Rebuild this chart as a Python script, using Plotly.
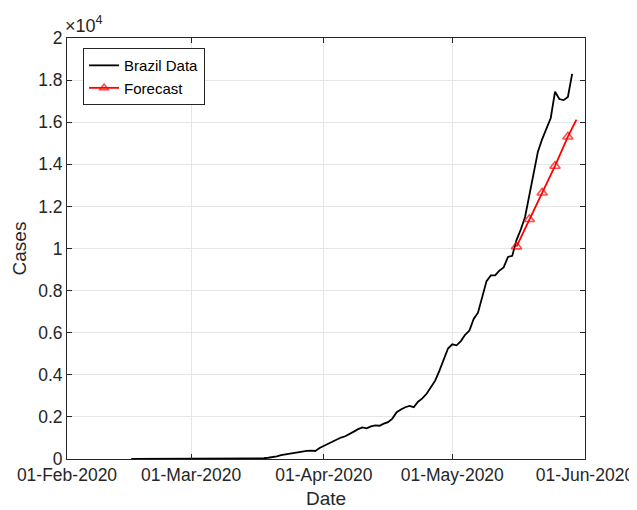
import plotly.graph_objects as go
import pandas as pd

# Brazil data: daily values starting 2020-02-16
data_start = "2020-02-16"
brazil_values = [
    0, 0, 0, 0, 0, 0, 0, 0, 0, 0,            # Feb 16 - Feb 25
    1, 1, 2, 2, 3, 3, 4, 4, 5, 5,            # Feb 26 - Mar 6
    6, 7, 8, 9, 10, 12, 14, 16, 20, 25,       # Mar 7 - Mar 16
    30, 35, 60, 80, 120, 180, 220, 260, 290, 320,  # Mar 17 - Mar 26
    350, 390, 400, 380, 520, 620, 750, 850, 950, 1020,  # Mar 27 - Apr 5
    1080, 1180, 1300, 1420, 1500, 1460, 1550, 1600, 1580, 1680,  # Apr 6 - Apr 15
    1750, 1920, 2220, 2350, 2460, 2520, 2460, 2720, 2880, 3100,  # Apr 16 - Apr 25
    3380, 3720, 4200, 4750, 5250, 5450, 5400, 5600, 5900, 6100,  # Apr 26 - May 5
    6650, 6950, 7700, 8450, 8720, 8720, 8950, 9100, 9600, 9650,  # May 6 - May 15
    10400, 10900, 11500, 12500, 13600, 14600, 15200, 15750, 16200, 17450,  # May 16 - May 25
    17100, 17050, 17200, 18300,  # May 26 - May 29
]

forecast_dates = ["2020-05-16", "2020-05-19", "2020-05-22", "2020-05-25", "2020-05-28", "2020-05-30"]
forecast_values = [10090, 11390, 12650, 13920, 15310, 16120]
forecast_marker_sizes = [9, 9, 9, 9, 9, 0]

x_tick_vals = ["2020-02-01", "2020-03-01", "2020-04-01", "2020-05-01", "2020-06-01"]
x_tick_text = ["01-Feb-2020", "01-Mar-2020", "01-Apr-2020", "01-May-2020", "01-Jun-2020"]
y_tick_vals = [0, 2000, 4000, 6000, 8000, 10000, 12000, 14000, 16000, 18000, 20000]
y_tick_text = ["0", "0.2", "0.4", "0.6", "0.8", "1", "1.2", "1.4", "1.6", "1.8", "2"]

brazil_dates = pd.date_range(data_start, periods=len(brazil_values), freq="D")

FONT = "Liberation Sans, Arial, Helvetica, sans-serif"
TXT = "#262626"

fig = go.Figure()
fig.add_trace(go.Scatter(
    x=brazil_dates, y=brazil_values, mode="lines", name="Brazil Data",
    line=dict(color="black", width=1.8),
))
fig.add_trace(go.Scatter(
    x=forecast_dates, y=forecast_values, mode="lines+markers", name="Forecast",
    line=dict(color="red", width=1.8),
    marker=dict(symbol="triangle-up-open", size=forecast_marker_sizes, color="red",
                line=dict(color="red", width=1.6)),
))

axis_common = dict(
    showline=True, linecolor=TXT, linewidth=1, mirror="allticks",
    ticks="inside", ticklen=5, tickcolor=TXT,
    showgrid=True, gridcolor="#e6e6e6", gridwidth=1, zeroline=False,
    tickfont=dict(family=FONT, size=17.5, color=TXT),
    automargin=False,
)

fig.update_xaxes(
    type="date", range=["2020-02-01", "2020-06-01"],
    tickvals=x_tick_vals, ticktext=x_tick_text,
    title=dict(text="Date", font=dict(family=FONT, size=19, color=TXT), standoff=7),
    **axis_common,
)
fig.update_yaxes(
    range=[0, 20000], tickvals=y_tick_vals, ticktext=y_tick_text,
    title=dict(text="Cases", font=dict(family=FONT, size=19, color=TXT), standoff=6),
    **axis_common,
)

fig.add_annotation(
    xref="paper", yref="paper", x=0, y=1, xanchor="left", yanchor="bottom",
    text="×10<sup>4</sup>", showarrow=False, xshift=-4, yshift=0,
    font=dict(family=FONT, size=18, color=TXT),
)

fig.update_layout(
    width=629, height=502,
    margin=dict(l=59, r=52, t=30, b=51),
    plot_bgcolor="white", paper_bgcolor="white",
    font=dict(family=FONT, color=TXT),
    legend=dict(
        x=0.031, y=0.976, xanchor="left", yanchor="top",
        bgcolor="white", bordercolor=TXT, borderwidth=1,
        font=dict(family=FONT, size=15, color="black"),
        tracegroupgap=0, itemwidth=30,
    ),
)

fig.write_html("out.html")
